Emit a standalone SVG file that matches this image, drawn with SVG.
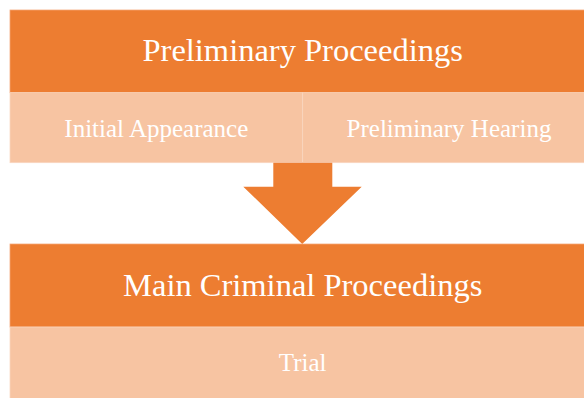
<svg xmlns="http://www.w3.org/2000/svg" width="584" height="398" viewBox="0 0 584 398">
<style>
.dark{fill:#ED7D31;stroke:#F4A676;stroke-width:0.75}
.light{fill:#F7C4A2;stroke:#FAD6BF;stroke-width:0.75}
.t{font-family:"Liberation Serif","Times New Roman",serif;fill:#FFFFFF;text-anchor:middle}
.big{font-size:32.5px}
.small{font-size:25px}
</style>
<rect width="584" height="398" fill="#FFFFFF"/>
<g id="preliminary">
<rect class="dark" x="10" y="10" width="586" height="82.7"/>
<text class="t big" x="302.7" y="61">Preliminary Proceedings</text>
</g>
<g id="initial-appearance">
<rect class="light" x="10" y="92.7" width="292.7" height="70"/>
<text class="t small" x="156.3" y="136.5">Initial Appearance</text>
</g>
<g id="preliminary-hearing">
<rect class="light" x="302.7" y="92.7" width="293" height="70"/>
<text class="t small" x="449" y="136.5">Preliminary Hearing</text>
</g>
<g id="connectors">
<polygon points="273.3,162.7 332.3,162.7 332.3,186.7 361.7,186.7 302.2,244 243.3,186.7 273.3,186.7" fill="#ED7D31"/>
</g>
<g id="main-criminal">
<rect class="dark" x="10" y="244" width="586" height="83"/>
<text class="t big" x="302.7" y="296">Main Criminal Proceedings</text>
</g>
<g id="trial">
<rect class="light" x="10" y="327" width="586" height="72"/>
<text class="t small" x="302.7" y="370.7">Trial</text>
</g>
</svg>
